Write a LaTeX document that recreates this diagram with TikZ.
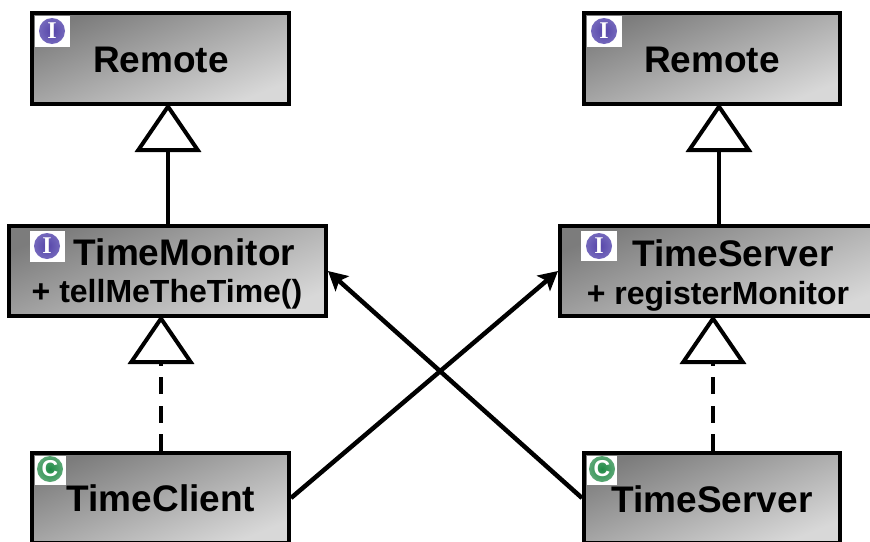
\documentclass[tikz,border=0pt]{standalone}
\usepackage{fontspec}
\setmainfont{Liberation Sans}
\newfontfamily\iconfont{Liberation Serif}
\usetikzlibrary{arrows.meta}
\definecolor{ipurple}{HTML}{5544A8}
\definecolor{ipurpleb}{HTML}{7468BC}
\definecolor{cgreen}{HTML}{1F8A45}
\definecolor{cgreenb}{HTML}{5CA876}
\tikzset{
  umlbox/.style={draw=black,line width=4pt,inner sep=0pt,top color=boxdark,bottom color=boxlight,shading angle=22},
  namelabel/.style={font=\bfseries\fontsize{37}{37}\selectfont,anchor=base,inner sep=0pt,text=black},
  memberlabel/.style={font=\bfseries\fontsize{32}{32}\selectfont,anchor=base,inner sep=0pt,text=black},
  iconbg/.style={fill=white,inner sep=0pt,anchor=north west},
  iface/.style={circle,inner sep=0pt,minimum size=26pt,inner color=ipurple,outer color=ipurpleb,text=white,font=\iconfont\bfseries\fontsize{24}{24}\selectfont},
  cls/.style={circle,inner sep=0pt,minimum size=26pt,inner color=cgreen,outer color=cgreenb,text=white,font=\bfseries\fontsize{23}{23}\selectfont},
  inherit/.style={line width=4pt,shorten >=-3pt,-{Triangle[length=49pt,width=66pt,fill=white]}},
  realize/.style={inherit,dash pattern=on 17pt off 11.5pt},
  assoc/.style={line width=4.5pt,-{Stealth[length=19pt,width=20pt,inset=4pt]}},
}
\definecolor{boxdark}{HTML}{7C7C7C}
\definecolor{boxlight}{HTML}{D8D8D8}
\begin{document}
\begin{tikzpicture}[x=1pt,y=-1pt]
\useasboundingbox (0,0) rectangle (870,541);
\clip (0,0) rectangle (870,541);
\fill[white] (0,0) rectangle (870,541);
% boxes
\node[umlbox,minimum width=257pt,minimum height=91pt] (remoteL) at (160.5,58.5) {};
\node[umlbox,minimum width=256pt,minimum height=91pt] (remoteR) at (712,58.5) {};
\node[umlbox,minimum width=317pt,minimum height=90pt] (monitor) at (167.5,271) {};
\node[umlbox,minimum width=320pt,minimum height=90pt] (serverI) at (720,271) {};
\node[umlbox,minimum width=257pt,minimum height=90pt] (client) at (160.5,498) {};
\node[umlbox,minimum width=256pt,minimum height=90pt] (serverC) at (712,498) {};
% icons
\node[iconbg,minimum width=35pt,minimum height=31pt] (bgA) at (35,16) {};
\node[iface] (icA) at (52,31) {I};
\node[iconbg,minimum width=35pt,minimum height=31pt] (bgB) at (587,16) {};
\node[iface] (icB) at (604,31) {I};
\node[iconbg,minimum width=35pt,minimum height=31pt] (bgC) at (30,231) {};
\node[iface] (icC) at (47,246) {I};
\node[iconbg,minimum width=36pt,minimum height=30pt] (bgD) at (581,231) {};
\node[iface] (icD) at (599,246) {I};
\node[iconbg,minimum width=31pt,minimum height=29pt] (bgE) at (35,456) {};
\node[cls] (icE) at (50,469) {C};
\node[iconbg,minimum width=30pt,minimum height=29pt] (bgF) at (587,456) {};
\node[cls] (icF) at (602,469) {C};
% labels
\node[namelabel] (t1) at (161,72) {Remote};
\node[namelabel] (t2) at (712,72) {Remote};
\node[namelabel] (t3) at (184.5,265) {TimeMonitor};
\node[memberlabel] (t4) at (167,302) {+ tellMeTheTime()};
\node[namelabel] (t5) at (733,266) {TimeServer};
\node[memberlabel] (t6) at (718,304) {+ registerMonitor};
\node[namelabel] (t7) at (161,511) {TimeClient};
\node[namelabel] (t8) at (712,512) {TimeServer};
% connectors
\draw[inherit] (168,0 |- monitor.north) -- (168,0 |- remoteL.south);
\draw[inherit] (719,0 |- serverI.north) -- (719,0 |- remoteR.south);
\draw[realize] (161,0 |- client.north) -- (161,0 |- monitor.south);
\draw[realize] (713,0 |- serverC.north) -- (713,0 |- serverI.south);
\draw[assoc] (client.east) -- (serverI.west);
\draw[assoc] (serverC.west) -- (monitor.east);
\end{tikzpicture}
\end{document}
